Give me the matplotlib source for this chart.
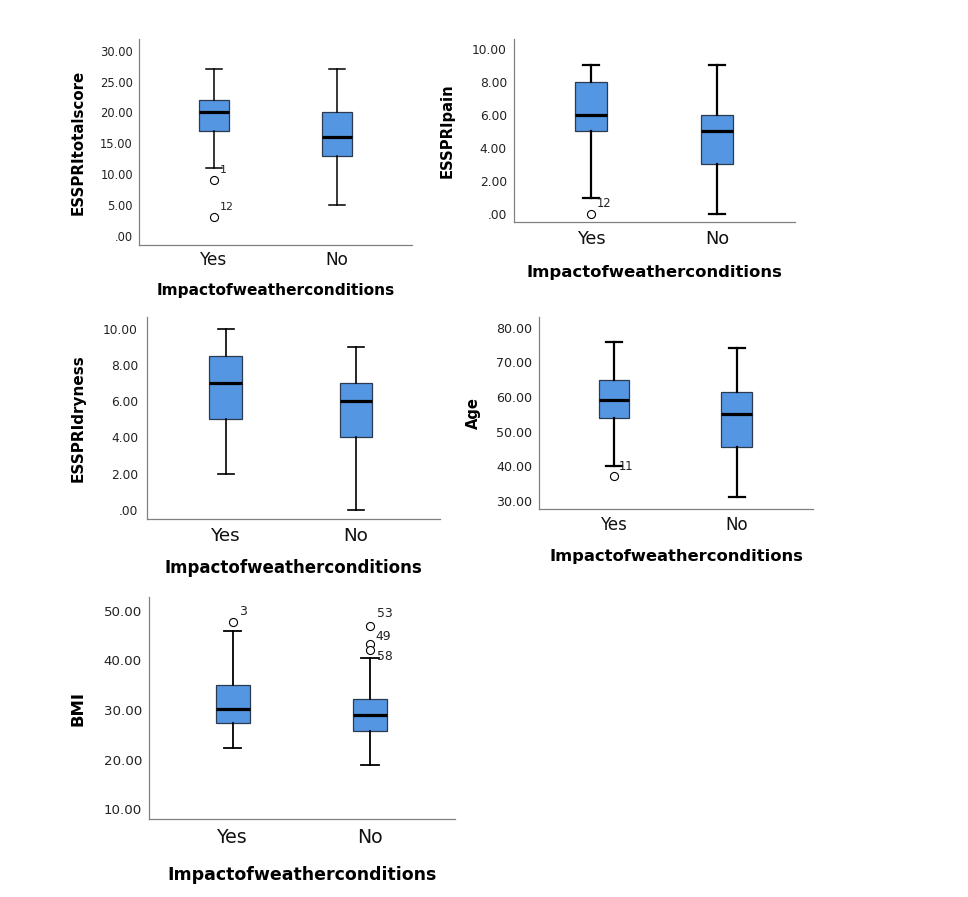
import numpy as np
import matplotlib
matplotlib.use("Agg")
import matplotlib.pyplot as plt
from matplotlib.ticker import FuncFormatter

plt.rcParams['font.family'] = ['DejaVu Sans']

groups = ["Yes", "No"]
xlabel = "Impactofweatherconditions"

# five summary values per group: low whisker, Q1, median, Q3, high whisker
total_yes = [11, 17, 20, 22, 27]
total_no = [5, 13, 16, 20, 27]
total_out = [([9, 3], ["1", "12"]), ([], [])]

pain_yes = [1, 5, 6, 8, 9]
pain_no = [0, 3, 5, 6, 9]
pain_out = [([0], ["12"]), ([], [])]

dry_yes = [2, 5, 7, 8.5, 10]
dry_no = [0, 4, 6, 7, 9]
dry_out = [([], []), ([], [])]

age_yes = [40, 54, 59, 65, 76]
age_no = [31, 45.5, 55, 61.5, 74]
age_out = [([37], ["11"]), ([], [])]

bmi_yes = [22.4, 27.4, 30.3, 35, 46]
bmi_no = [18.9, 25.7, 29, 32.2, 40.6]
bmi_out = [([47.8], ["3"]), ([47, 43.4, 42.2], ["53", "49", "58"])]

W, H = 968, 897
fig = plt.figure(figsize=(W / 100, H / 100), dpi=100)

box_color = "#5596e3"

def fmt(v, pos):
    s = "%.2f" % v
    if s.startswith("0."):
        s = s[1:]
    return s

# panel layout in pixels: left, right, top, bottom spine
panels = [
    dict(name="ESSPRItotalscore", yes=total_yes, no=total_no, out=total_out,
         px=(139, 412, 39, 245), ylim=(-1.5, 31.9), xlim=(0.39, 2.61),
         ticks=np.arange(0, 31, 5), ylab_x=78, xtick_y=260, xlab_y=290,
         xfs=11.1, yfs=10.8, tfs=12.2, yts=8.3, ofs=7.9, ypad=6, lw=1.1,
         offs=[[(6, -10), (6, -10)], []]),
    dict(name="ESSPRIpain", yes=pain_yes, no=pain_no, out=pain_out,
         px=(514, 795, 39, 222), ylim=(-0.48, 10.58), xlim=(0.389, 2.62),
         ticks=np.arange(0, 11, 2), ylab_x=447, xtick_y=239, xlab_y=272,
         xfs=11.85, yfs=10.6, tfs=12.8, yts=8.8, ofs=8.3, ypad=7, lw=1.6,
         offs=[[(6, -11)], []]),
    dict(name="ESSPRIdryness", yes=dry_yes, no=dry_no, out=dry_out,
         px=(147, 440, 317, 519), ylim=(-0.5, 10.64), xlim=(0.396, 2.645),
         ticks=np.arange(0, 11, 2), ylab_x=78, xtick_y=536, xlab_y=568,
         xfs=12.0, yfs=11.0, tfs=13.2, yts=8.8, ofs=8.3, ypad=9, lw=1.2,
         offs=[[], []]),
    dict(name="Age", yes=age_yes, no=age_no, out=age_out,
         px=(539, 813, 317, 509), ylim=(27.6, 83.1), xlim=(0.39, 2.62),
         ticks=np.arange(30, 81, 10), ylab_x=473, xtick_y=525, xlab_y=557,
         xfs=11.75, yfs=10.6, tfs=12.0, yts=9.1, ofs=8.3, ypad=7, lw=1.6,
         offs=[[(5, -10)], []]),
    dict(name="BMI", yes=bmi_yes, no=bmi_no, out=bmi_out,
         px=(149, 455, 597, 819), ylim=(8.05, 52.8), xlim=(0.39, 2.62),
         ticks=np.arange(10, 51, 10), ylab_x=78, xtick_y=837, xlab_y=875,
         xfs=12.5, yfs=11.8, tfs=13.6, yts=9.6, ofs=8.9, ypad=7, lw=1.3,
         offs=[[(7, -10)], [(7, -12), (6, -7), (7, 7)]]),
]

for p in panels:
    l, r, t, b = p["px"]
    ax = fig.add_axes([l / W, (H - b) / H, (r - l) / W, (b - t) / H])
    stats = []
    for g, v, (ov, _) in zip(groups, [p["yes"], p["no"]], p["out"]):
        stats.append(dict(label=g, whislo=v[0], q1=v[1], med=v[2], q3=v[3],
                          whishi=v[4], fliers=ov))
    ax.bxp(stats, positions=[1, 2], widths=0.25, patch_artist=True,
           boxprops=dict(facecolor=box_color, edgecolor="#2b3a4f", linewidth=0.9),
           medianprops=dict(color="black", linewidth=2.3),
           whiskerprops=dict(color="black", linewidth=p["lw"]),
           capprops=dict(color="black", linewidth=p["lw"]),
           flierprops=dict(marker="o", markerfacecolor="white", markeredgecolor="black",
                           markersize=5.8, markeredgewidth=0.8))
    for i, (ov, labs) in enumerate(p["out"]):
        for val, lab, off in zip(ov, labs, p["offs"][i]):
            ax.annotate(lab, (i + 1, val), xytext=(off[0] * 0.72, -off[1] * 0.72),
                        textcoords="offset points", ha="left", va="center",
                        fontsize=p["ofs"], color="#222222")
    ax.set_xlim(*p["xlim"])
    ax.set_ylim(*p["ylim"])
    ax.set_yticks(p["ticks"])
    ax.yaxis.set_major_formatter(FuncFormatter(fmt))
    ax.set_xticks([1, 2])
    ax.set_xticklabels(groups)
    for s in ["top", "right"]:
        ax.spines[s].set_visible(False)
    for s in ["left", "bottom"]:
        ax.spines[s].set_color("#808080")
        ax.spines[s].set_linewidth(0.9)
    ax.tick_params(axis="y", length=0, pad=p["ypad"] * 0.72, labelsize=p["yts"],
                   labelcolor="#222222")
    ax.tick_params(axis="x", length=0, labelsize=p["tfs"], labelcolor="#111111")
    # x tick labels centered at xtick_y
    for lab in ax.get_xticklabels():
        lab.set_va("center")
    ax.tick_params(axis="x", pad=(p["xtick_y"] - b) * 0.72)
    ax.set_xlabel(xlabel, fontsize=p["xfs"], fontweight="bold", va="center")
    ax.xaxis.set_label_coords(0.5, (b - p["xlab_y"]) / (b - t))
    ax.set_ylabel(p["name"], fontsize=p["yfs"], fontweight="bold", va="center")
    ax.yaxis.set_label_coords((p["ylab_x"] - l) / (r - l), 0.5)

fig.savefig("out.png", dpi=100)
